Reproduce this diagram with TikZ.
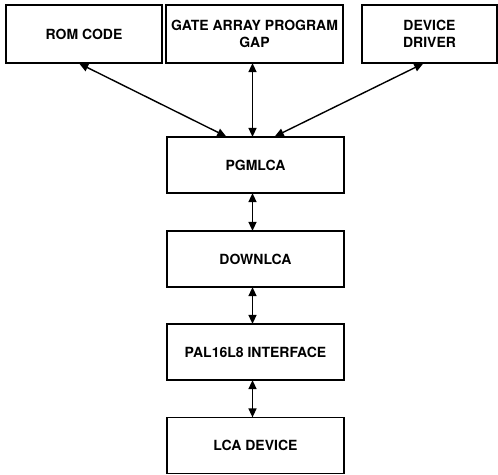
\documentclass[tikz,border=0pt]{standalone}
\usepackage{fontspec}
\setmainfont{TeX Gyre Heros}
\usepackage{tikz}
\usetikzlibrary{arrows.meta,positioning,calc}
\tikzset{box/.style={draw=black,line width=1.8pt,align=center,font=\bfseries\fontsize{14}{17}\selectfont,inner sep=0pt},arr/.style={{Triangle[length=9pt,width=8pt]}-{Triangle[length=9pt,width=8pt]},line width=1.4pt,shorten <=-0.8pt,shorten >=-0.8pt}}
\begin{document}
\begin{tikzpicture}[x=1pt,y=-1pt]
\useasboundingbox (0,0) rectangle (498,474);
\node[box,minimum width=156pt,minimum height=58pt] (rom) at (84,34) {ROM CODE};
\node[box,minimum width=177pt,minimum height=58pt] (gap) at (254.5,34) {GATE ARRAY PROGRAM\\GAP};
\node[box,minimum width=135pt,minimum height=58pt] (drv) at (429.5,34) {DEVICE\\DRIVER};
\foreach \n/\y/\t in {pgm/165/PGMLCA,down/259/DOWNLCA,pal/352/PAL16L8 INTERFACE,lca/445.5/LCA DEVICE}
 {\node[box,minimum width=177pt,minimum height=56pt] (\n) at (255.5,\y) {\t};}
\draw[arr] ([xshift=-4pt]rom.south) -- ([xshift=-30pt]pgm.north);
\draw[arr] ([xshift=-2pt]gap.south) -- ([xshift=-3pt]pgm.north);
\draw[arr] ([xshift=-7pt]drv.south) -- ([xshift=20pt]pgm.north);
\draw[arr] ([xshift=-3pt]pgm.south) -- ([xshift=-3pt]down.north);
\draw[arr] ([xshift=-3pt]down.south) -- ([xshift=-3pt]pal.north);
\draw[arr] ([xshift=-3pt]pal.south) -- ([xshift=-3pt]lca.north);
\end{tikzpicture}
\end{document}
